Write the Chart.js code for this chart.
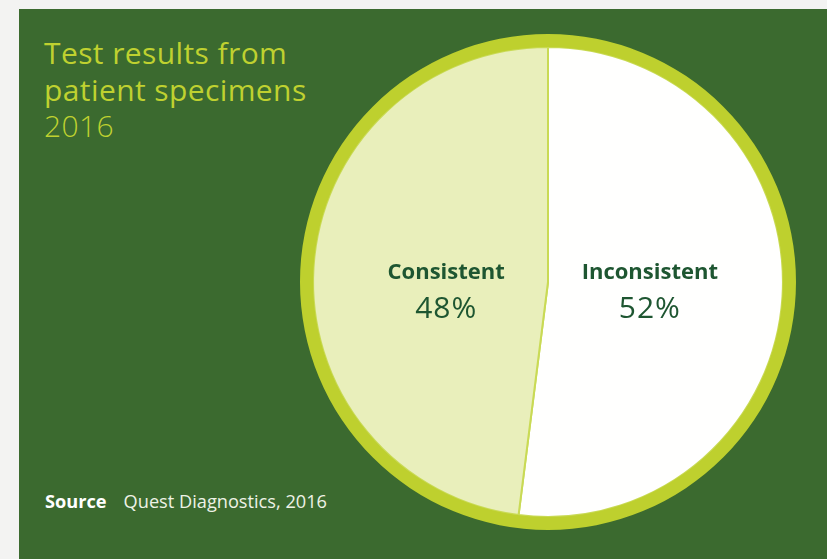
<!DOCTYPE html>
<html>
<head>
<meta charset="utf-8">
<script src="https://cdn.jsdelivr.net/npm/chart.js@4"></script>
<style>
    html, body { margin: 0; padding: 0; background: #f3f3f2; width: 827px; height: 559px; overflow: hidden; }
    #panel { position: absolute; left: 19px; top: 9px; width: 808px; height: 550px; background: #3b6a2f; }
    #title { position: absolute; left: 25px; top: 26px; font-family: "Open Sans", sans-serif; font-size: 30px; letter-spacing: 0.4px; line-height: 36.5px; color: #bfd130; }
    #title .year { font-weight: 300; }
    #source { position: absolute; left: 26px; top: 480px; font-family: "Open Sans", sans-serif; font-size: 18.2px; color: #eef2e6; }
    #source b { color: #ffffff; margin-right: 17px; }
    #chart-wrap { position: absolute; left: 279px; top: 23px; width: 500px; height: 500px; }
</style>
</head>
<body>
<div id="panel">
    <div id="title">Test results from<br>patient specimens<br><span class="year">2016</span></div>
    <div id="source"><b>Source</b>Quest Diagnostics, 2016</div>
    <div id="chart-wrap"><canvas id="chart" width="500" height="500"></canvas></div>
</div>
<script>
// data
const categories = ['Inconsistent', 'Consistent'];
const shares = [52, 48];
const sliceColors = ['#fffffe', '#e9efbb'];

// thin lime ring round the pie (decorative)
const ringValues = [100];

// labels sit level, left/right of centre depending on the slice
const sliceLabels = {
    id: 'sliceLabels',
    afterDatasetsDraw(chart) {
        const ctx = chart.ctx;
        const meta = chart.getDatasetMeta(1);
        meta.data.forEach((arc, i) => {
            const mid = (arc.startAngle + arc.endAngle) / 2;
            const x = arc.x + Math.cos(mid) * 102;
            const y = arc.y + 9;
            ctx.save();
            ctx.fillStyle = '#1e5631';
            ctx.textAlign = 'center';
            ctx.textBaseline = 'middle';
            ctx.font = 'bold 22px "Open Sans", sans-serif';
            ctx.fillText(categories[i], x, y - 18);
            ctx.font = '30px "Open Sans", sans-serif';
            ctx.letterSpacing = '1px';
            ctx.fillText(shares[i] + '%', x, y + 18);
            ctx.restore();
        });
    }
};

new Chart(document.getElementById('chart').getContext('2d'), {
    type: 'pie',
    data: {
        labels: categories,
        datasets: [
            {
                data: ringValues,
                backgroundColor: '#bed02e',
                borderWidth: 0,
                weight: 13
            },
            {
                data: shares,
                backgroundColor: sliceColors,
                borderColor: '#c9da55',
                borderWidth: 2,
                weight: 234
            }
        ]
    },
    options: {
        responsive: false,
        animation: false,
        events: [],
        layout: { padding: 2 },
        plugins: {
            legend: { display: false },
            tooltip: { enabled: false }
        }
    },
    plugins: [sliceLabels]
});
</script>
</body>
</html>
